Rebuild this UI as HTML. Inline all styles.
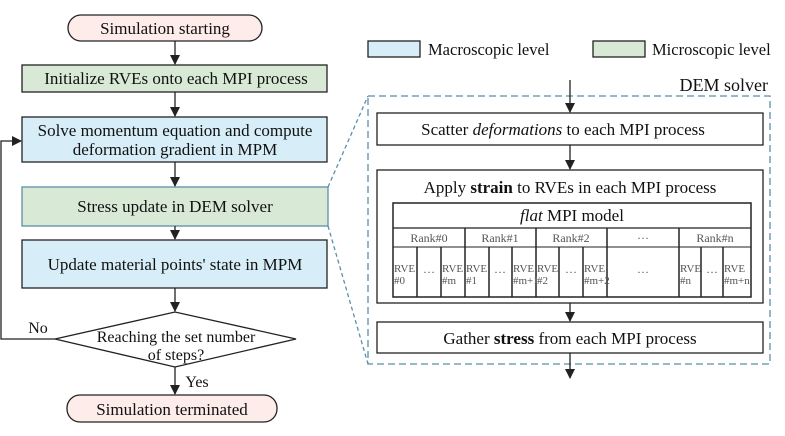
<!DOCTYPE html>
<html><head><meta charset="utf-8"><style>
html,body{margin:0;padding:0;background:#fff;}
svg{display:block;font-family:"Liberation Serif",serif;}
</style></head><body>
<svg width="785" height="436" viewBox="0 0 785 436" xmlns="http://www.w3.org/2000/svg">
<defs>
<marker id="a" markerWidth="10" markerHeight="10" refX="9" refY="5" orient="auto" markerUnits="userSpaceOnUse">
<path d="M0,0 L10,5 L0,10 z" fill="#222"/></marker>
</defs>
<g stroke="#222" stroke-width="1.3" fill="none">
<rect x="68" y="15" width="194" height="26" rx="13" fill="#fdecea"/>
<rect x="22" y="65" width="305" height="27" fill="#d8ead6"/>
<rect x="22" y="117" width="305" height="45" fill="#d7eef8"/>
<rect x="22" y="187" width="306" height="39" fill="#d8ead6" stroke="#5a8fa8"/>
<rect x="22" y="240" width="305" height="48" fill="#d7eef8"/>
<polygon points="55,339 175,312 296,339 175,367" fill="#fff"/>
<rect x="67" y="395" width="210" height="27" rx="13" fill="#fdecea"/>
<line x1="175" y1="41" x2="175" y2="64" marker-end="url(#a)"/>
<line x1="175" y1="92" x2="175" y2="116" marker-end="url(#a)"/>
<line x1="175" y1="162" x2="175" y2="186" marker-end="url(#a)"/>
<line x1="175" y1="226" x2="175" y2="239" marker-end="url(#a)"/>
<line x1="175" y1="288" x2="175" y2="311" marker-end="url(#a)"/>
<line x1="175" y1="367" x2="175" y2="394" marker-end="url(#a)"/>
<polyline points="55,339 1,339 1,141 21,141" marker-end="url(#a)"/>
<rect x="368" y="41" width="52" height="16" fill="#d7eef8"/>
<rect x="593" y="41" width="52" height="16" fill="#d8ead6"/>
<rect x="368" y="96" width="402" height="268" stroke="#5a8fa8" stroke-dasharray="7,4"/>
<line x1="328" y1="187" x2="368" y2="96" stroke="#5a8fa8" stroke-dasharray="4,3"/>
<line x1="328" y1="226" x2="368" y2="364" stroke="#5a8fa8" stroke-dasharray="4,3"/>
<rect x="377" y="113" width="386" height="32" fill="#fff"/>
<rect x="377" y="170" width="386" height="133" fill="#fff"/>
<rect x="377" y="322" width="386" height="31" fill="#fff"/>
<line x1="570" y1="80" x2="570" y2="112" marker-end="url(#a)"/>
<line x1="570" y1="145" x2="570" y2="169" marker-end="url(#a)"/>
<line x1="570" y1="303" x2="570" y2="321" marker-end="url(#a)"/>
<line x1="570" y1="353" x2="570" y2="378" marker-end="url(#a)"/>
<rect x="393" y="203" width="358" height="94" stroke-width="1.5"/>
<line x1="393" y1="228" x2="751" y2="228"/>
<line x1="393" y1="247" x2="751" y2="247" stroke-width="1"/>
<g stroke-width="1.5">
<line x1="465" y1="228" x2="465" y2="297"/>
<line x1="536" y1="228" x2="536" y2="297"/>
<line x1="607" y1="228" x2="607" y2="297"/>
<line x1="679" y1="228" x2="679" y2="297"/>
<line x1="417" y1="247" x2="417" y2="297"/>
<line x1="441" y1="247" x2="441" y2="297"/>
<line x1="489" y1="247" x2="489" y2="297"/>
<line x1="512" y1="247" x2="512" y2="297"/>
<line x1="559" y1="247" x2="559" y2="297"/>
<line x1="583" y1="247" x2="583" y2="297"/>
<line x1="701" y1="247" x2="701" y2="297"/>
<line x1="723" y1="247" x2="723" y2="297"/>
</g>
</g>
<g fill="#111" font-size="17" text-anchor="middle">
<text x="165" y="34">Simulation starting</text>
<text x="176" y="84">Initialize RVEs onto each MPI process</text>
<text x="175" y="136">Solve momentum equation and compute</text>
<text x="175" y="155">deformation gradient in MPM</text>
<text x="175" y="212">Stress update in DEM solver</text>
<text x="175" y="270">Update material points' state in MPM</text>
<text x="176" y="342" font-size="16">Reaching the set number</text>
<text x="176" y="360" font-size="16">of steps?</text>
<text x="172" y="415">Simulation terminated</text>
<text x="38" y="333" font-size="16">No</text>
<text x="197" y="387" font-size="16">Yes</text>
<text x="428" y="55" text-anchor="start" font-size="16.5">Macroscopic level</text>
<text x="652" y="55" text-anchor="start" font-size="16.5">Microscopic level</text>
<text x="768" y="91" text-anchor="end" font-size="18">DEM solver</text>
<text x="563" y="135">Scatter <tspan font-style="italic">deformations</tspan> to each MPI process</text>
<text x="570" y="193">Apply <tspan font-weight="bold">strain</tspan> to RVEs in each MPI process</text>
<text x="572" y="221"><tspan font-style="italic">flat</tspan> MPI model</text>
<text x="570" y="344">Gather <tspan font-weight="bold">stress</tspan> from each MPI process</text>
</g>
<g fill="#555" font-size="12" text-anchor="middle">
<text x="429" y="242">Rank#0</text>
<text x="500" y="242">Rank#1</text>
<text x="571" y="242">Rank#2</text>
<text x="643" y="242">···</text>
<text x="715" y="242">Rank#n</text>
<g text-anchor="start" font-size="11">
<text x="394" y="272">RVE</text><text x="394" y="284">#0</text>
<text x="442" y="272">RVE</text><text x="442" y="284">#m</text>
<text x="466" y="272">RVE</text><text x="466" y="284">#1</text>
<text x="513" y="272">RVE</text><text x="513" y="284">#m+1</text>
<text x="537" y="272">RVE</text><text x="537" y="284">#2</text>
<text x="584" y="272">RVE</text><text x="584" y="284">#m+2</text>
<text x="680" y="272">RVE</text><text x="680" y="284">#n</text>
<text x="724" y="272">RVE</text><text x="724" y="284">#m+n</text>
</g>
<text x="429" y="276">···</text>
<text x="500" y="276">···</text>
<text x="571" y="276">···</text>
<text x="643" y="276">···</text>
<text x="712" y="276">···</text>
</g>
</svg>
</body></html>
